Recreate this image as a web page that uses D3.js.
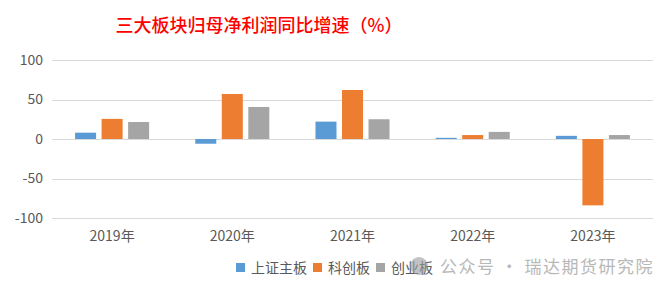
<!DOCTYPE html>
<html>
<head>
<meta charset="utf-8">
<script src="https://cdn.jsdelivr.net/npm/d3@7"></script>
<style>
  body { margin: 0; background: #fff; }
  svg text { font-family: "Noto Sans CJK SC", "Noto Sans", sans-serif; }
</style>
</head>
<body>
<svg id="chart" width="668" height="294"></svg>
<script>
// values
var years = ["2019年", "2020年", "2021年", "2022年", "2023年"];
var seriesNames = ["上证主板", "科创板", "创业板"];
var shMain = [8, -6, 22, 1.5, 4];
var star = [25.5, 57, 62, 5, -84];
var chinext = [21.5, 40.5, 25, 9, 5];
var yTicks = [-100, -50, 0, 50, 100];
var colors = ["#5B9BD5", "#ED7D31", "#A5A5A5"];

var svg = d3.select("#chart");
var margin = { top: 60, right: 15, bottom: 76, left: 52 };
var width = 668 - margin.left - margin.right,
    height = 294 - margin.top - margin.bottom;

// title
svg.append("text")
    .attr("x", 259).attr("y", 32)
    .attr("text-anchor", "middle")
    .attr("fill", "#FF0000")
    .style("font-size", "18px")
    .style("font-weight", "500")
    .text("三大板块归母净利润同比增速（%）");

var g = svg.append("g").attr("transform", "translate(" + margin.left + "," + margin.top + ")");

var x0 = d3.scaleBand().domain(years).range([0, width]).paddingInner(0.384).paddingOuter(0.192);
var x1 = d3.scaleBand().domain(seriesNames).range([0, x0.bandwidth()]).paddingInner(0.2075).paddingOuter(0);
var y = d3.scaleLinear().domain([-100, 100]).range([height, 0]);

// gridlines
g.selectAll(".grid").data(yTicks).enter().append("line")
    .attr("x1", 0).attr("x2", width)
    .attr("y1", function(d) { return Math.round(y(d)) + 0.5; })
    .attr("y2", function(d) { return Math.round(y(d)) + 0.5; })
    .attr("stroke", "#D9D9D9").attr("stroke-width", 1);

// y labels
g.selectAll(".ylab").data(yTicks).enter().append("text")
    .attr("x", -9).attr("y", function(d) { return y(d); })
    .attr("dy", "0.35em")
    .attr("text-anchor", "end")
    .attr("fill", "#595959")
    .style("font-size", "14px")
    .text(function(d) { return d; });

var rows = years.map(function(yr, i) {
    return { year: yr, vals: [shMain[i], star[i], chinext[i]] };
});

var groups = g.selectAll(".grp").data(rows).enter().append("g")
    .attr("transform", function(d) { return "translate(" + x0(d.year) + ",0)"; });

groups.selectAll("rect")
    .data(function(d) { return d.vals.map(function(v, j) { return { name: seriesNames[j], v: v, j: j }; }); })
    .enter().append("rect")
    .attr("x", function(d) { return x1(d.name); })
    .attr("width", x1.bandwidth())
    .attr("y", function(d) { return y(Math.max(0, d.v)); })
    .attr("height", function(d) { return Math.abs(y(d.v) - y(0)); })
    .attr("fill", function(d) { return colors[d.j]; });

// x labels
g.selectAll(".xlab").data(years).enter().append("text")
    .attr("x", function(d) { return x0(d) + x0.bandwidth() / 2; })
    .attr("y", height + 23)
    .attr("text-anchor", "middle")
    .attr("fill", "#595959")
    .style("font-size", "14px")
    .text(function(d) { return d; });

// legend
var legX = [236, 313, 376];
var leg = svg.selectAll(".leg").data(seriesNames).enter().append("g")
    .attr("transform", function(d, i) { return "translate(" + legX[i] + ",268)"; });
leg.append("rect").attr("x", 0).attr("y", -5).attr("width", 9).attr("height", 9)
    .attr("fill", function(d, i) { return colors[i]; });
leg.append("text").attr("x", 15).attr("y", 0).attr("dy", "0.35em")
    .attr("fill", "#595959").style("font-size", "14px")
    .text(function(d) { return d; });

// watermark
svg.append("circle").attr("cx", 419).attr("cy", 266).attr("r", 9)
    .attr("fill", "#9a9a9a").attr("opacity", 0.6);
svg.append("text").attr("x", 440).attr("y", 267).attr("dy", "0.35em")
    .attr("fill", "#b8b8b8").style("font-size", "17px")
    .style("letter-spacing", "1.5px")
    .text("公众号 · 瑞达期货研究院");
</script>
</body>
</html>
